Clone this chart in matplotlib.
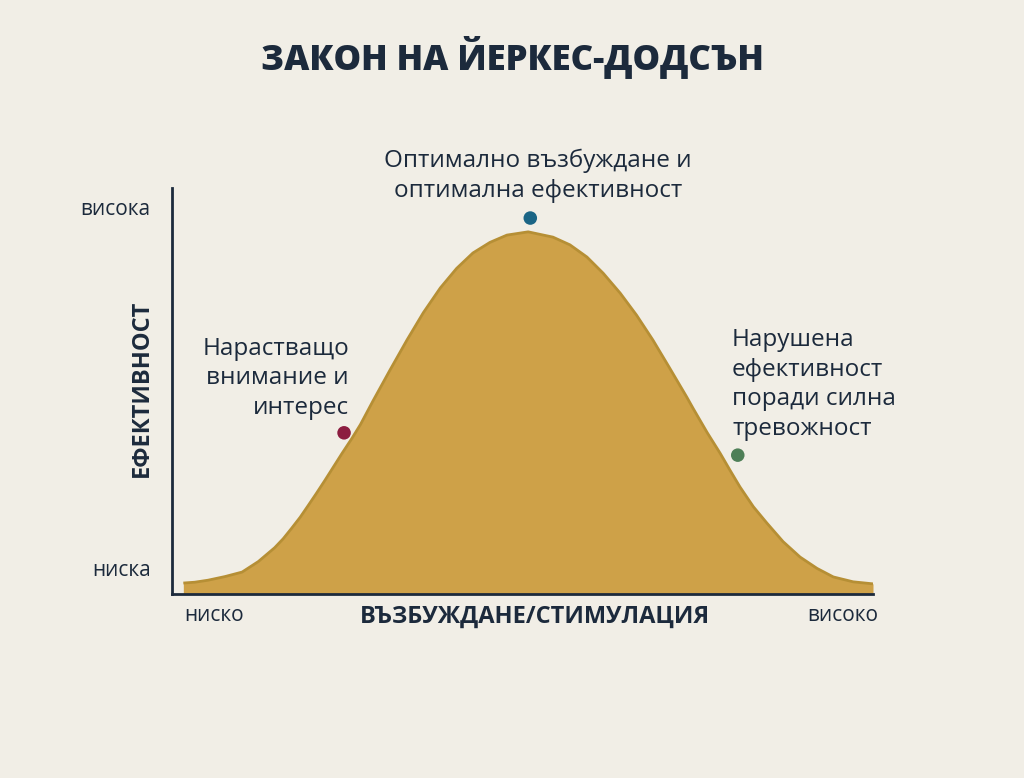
import matplotlib.pyplot as plt

plt.rcParams['font.family'] = ['Open Sans', 'DejaVu Sans']

# curve (arousal 0-99, performance 0-100)
arousal = [1.6, 3.2, 5.1, 7.5, 9.9, 12.2, 14.5, 15.7, 16.9, 18.1, 19.2, 20.4,
           21.6, 22.8, 24.0, 25.4, 26.6, 28.4, 30.8, 33.2, 35.5, 37.9, 40.2,
           42.5, 44.9, 47.3, 50.3, 53.8, 56.2, 58.6, 60.9, 63.3, 65.6, 67.9,
           70.3, 72.7, 73.6, 75.6, 77.4, 78.8, 80.2, 82.1, 84.0, 86.3, 88.7,
           91.1, 93.4, 96.2, 99.0]
performance = [2.7, 2.9, 3.4, 4.3, 5.4, 8.0, 11.4, 13.6, 16.2, 18.9, 21.7, 24.8,
               28.0, 31.3, 34.6, 38.3, 41.7, 47.6, 55.2, 62.6, 69.3, 75.4, 80.2,
               84.0, 86.6, 88.4, 89.2, 87.9, 86.0, 83.0, 79.0, 74.1, 68.7, 62.6,
               55.6, 48.5, 45.7, 39.7, 34.7, 30.5, 26.4, 21.5, 17.5, 12.9, 9.1,
               6.3, 4.2, 3.0, 2.5]

point_x = [24.3, 50.6, 79.9]
point_y = [39.7, 92.6, 34.2]
point_colors = ['#8c1d40', '#1b6585', '#4e7f57']

title = 'ЗАКОН НА ЙЕРКЕС-ДОДСЪН'
x_label = 'ВЪЗБУЖДАНЕ/СТИМУЛАЦИЯ'
y_label = 'ЕФЕКТИВНОСТ'
x_ends = ['ниско', 'високо']
y_ends = ['ниска', 'висока']
notes = ['Нарастващо\nвнимание и\nинтерес',
         'Оптимално възбуждане и\nоптимална ефективност',
         'Нарушена\nефективност\nпоради силна\nтревожност']

bg = '#f1eee6'
ink = '#1c2a3c'

fig = plt.figure(figsize=(10.24, 7.78), dpi=100, facecolor=bg)
ax = fig.add_axes([172 / 1024, 1 - 594 / 778, 701 / 1024, 406 / 778])
ax.set_facecolor(bg)
ax.set_xlim(0, 99)
ax.set_ylim(0, 100)

ax.fill_between(arousal, performance, 0, color='#cea148', lw=0, zorder=2)
ax.plot(arousal, performance, color='#b68f35', lw=2.0, zorder=3,
        solid_capstyle='butt', solid_joinstyle='round')
ax.scatter(point_x, point_y, s=95, c=point_colors, zorder=4, lw=0)

for side in ['top', 'right']:
    ax.spines[side].set_visible(False)
for side in ['left', 'bottom']:
    ax.spines[side].set_color(ink)
    ax.spines[side].set_linewidth(2)
    ax.spines[side].set_zorder(5)
ax.set_xticks([])
ax.set_yticks([])

# annotations
ax.text(25.0, 53.1, notes[0], ha='right', va='center', fontsize=17.5,
        color=ink, linespacing=1.3, clip_on=False)
ax.text(51.7, 103.0, notes[1], ha='center', va='center', fontsize=17.5,
        color=ink, linespacing=1.3, clip_on=False, multialignment='center')
ax.text(79.1, 51.6, notes[2], ha='left', va='center', fontsize=17.5,
        color=ink, linespacing=1.3, clip_on=False)

# axis end labels
ax.text(-3.0, 94.8, y_ends[1], ha='right', va='center', fontsize=15, color=ink)
ax.text(-3.0, 5.7, y_ends[0], ha='right', va='center', fontsize=15, color=ink)
ax.text(1.7, -5.4, x_ends[0], ha='left', va='center', fontsize=15, color=ink)
ax.text(99.7, -5.4, x_ends[1], ha='right', va='center', fontsize=15, color=ink)

ax.text(51.3, -5.7, x_label, ha='center', va='center', fontsize=17,
        fontweight='bold', color=ink)
ax.text(-4.2, 50.7, y_label, ha='center', va='center', fontsize=17,
        fontweight='bold', color=ink, rotation=90)

fig.text(0.5, 1 - 57 / 778, title, ha='center', va='center', fontsize=25,
         fontweight='heavy', color=ink)

fig.savefig('out.png', dpi=100, facecolor=bg)
